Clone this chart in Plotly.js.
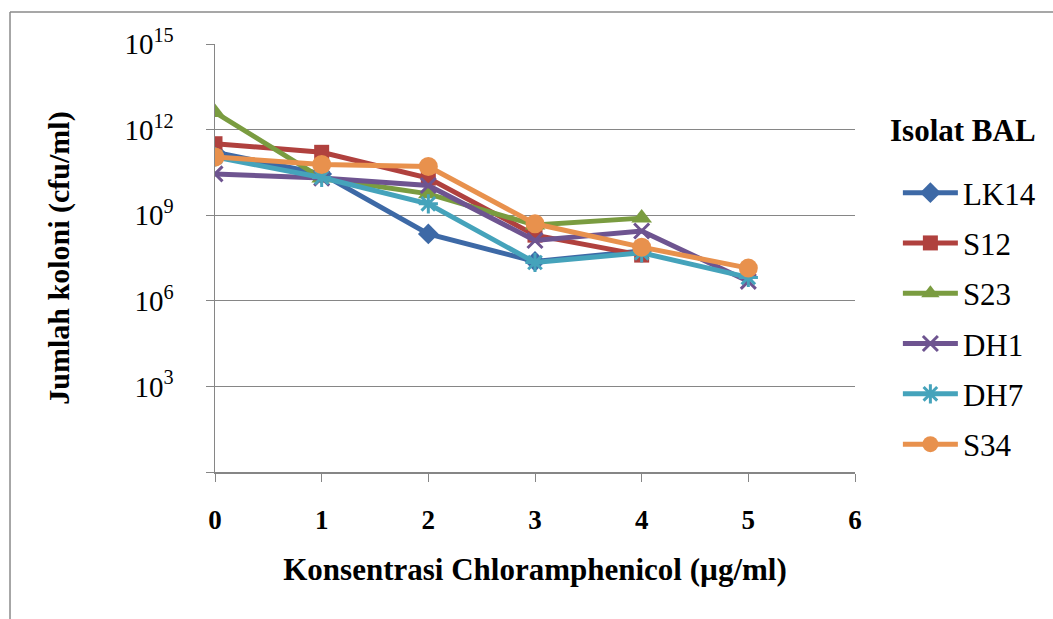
<!DOCTYPE html>
<html>
<head>
<meta charset="utf-8">
<script src="https://cdn.plot.ly/plotly-3.0.1.min.js"></script>
<style>html,body{margin:0;padding:0;background:#fff;}#chart{width:1053px;height:619px;}</style>
</head>
<body>
<div id="chart"></div>
<script>
// Concentration of chloramphenicol (µg/ml)
const concentrations = [0, 1, 2, 3, 4, 5];
// Colony counts (cfu/ml)
const LK14 = [1.6e11, 2.8e10, 2.2e8, 2.4e7, 5.6e7];
const S12  = [3.2e11, 1.6e11, 2.0e10, 2.0e8, 4.0e7];
const S23  = [4.0e12, 2.0e10, 5.6e9, 4.5e8, 7.9e8];
const DH1  = [2.8e10, 2.0e10, 1.1e10, 1.3e8, 2.8e8, 4.8e6];
const DH7  = [1.1e11, 2.1e10, 2.5e9, 2.2e7, 4.8e7, 6.6e6];
const S34  = [1.1e11, 6.0e10, 5.1e10, 5.0e8, 7.6e7, 1.4e7];
const seriesNames = ["LK14", "S12", "S23", "DH1", "DH7", "S34"];
const yTickValues = [1, 1e3, 1e6, 1e9, 1e12, 1e15];
const yTickLabels = ["", "10<sup>3</sup>", "10<sup>6</sup>", "10<sup>9</sup>", "10<sup>12</sup>", "10<sup>15</sup>"];
const xTickValues = [0, 1, 2, 3, 4, 5, 6];

const seriesData = [LK14, S12, S23, DH1, DH7, S34];
const styles = [
  {color: "#3D69A6", symbol: "diamond", size: 16, lw: 0},
  {color: "#B0413E", symbol: "square", size: 15, lw: 0},
  {color: "#7A9C40", symbol: "triangle-up", size: 18, lw: 0},
  {color: "#6E5490", symbol: "x-thin-open", size: 15, lw: 3},
  {color: "#45A3BB", symbol: "asterisk-open", size: 16, lw: 3},
  {color: "#E8914D", symbol: "circle", size: 19, lw: 0}
];

const traces = seriesNames.map((name, i) => ({
  type: "scatter",
  mode: "lines+markers",
  name: name,
  legendgroup: name,
  x: concentrations.slice(0, seriesData[i].length),
  y: seriesData[i],
  line: {color: styles[i].color, width: 5},
  marker: {
    symbol: styles[i].symbol,
    size: styles[i].size,
    color: styles[i].color,
    line: {color: styles[i].color, width: styles[i].lw}
  }
}));

const axisColor = "#868686";
const layout = {
  width: 1053,
  height: 619,
  margin: {l: 215, r: 198, t: 44, b: 147},
  paper_bgcolor: "#ffffff",
  plot_bgcolor: "#ffffff",
  font: {family: "Liberation Serif, Times New Roman, serif", color: "#000"},
  showlegend: true,
  legend: {
    x: 1.067, xanchor: "left",
    y: 0.715, yanchor: "top",
    font: {size: 31},
    tracegroupgap: 7,
    itemwidth: 55,
    bgcolor: "rgba(0,0,0,0)"
  },
  annotations: [
    {text: "<b>Isolat BAL</b>", xref: "paper", yref: "paper", x: 1.0516, y: 0.799,
     xanchor: "left", yanchor: "middle", showarrow: false, font: {size: 31}}
  ],
  xaxis: {
    range: [0, 6],
    tickvals: xTickValues,
    ticktext: xTickValues.map(String),
    tickfont: {size: 27, family: "Liberation Serif", weight: "bold"},
    ticks: "outside", ticklen: 8, tickcolor: axisColor, tickwidth: 1,
    ticklabelstandoff: 15,
    showline: true, linecolor: axisColor, linewidth: 1.5,
    showgrid: false, zeroline: false,
    title: {text: "<b>Konsentrasi Chloramphenicol (µg/ml)</b>", font: {size: 31}, standoff: 24}
  },
  yaxis: {
    type: "log",
    range: [0, 15],
    tickvals: yTickValues,
    ticktext: yTickLabels,
    tickfont: {size: 29},
    ticks: "outside", ticklen: 8, tickcolor: axisColor, tickwidth: 1,
    ticklabelstandoff: 26,
    showline: true, linecolor: axisColor, linewidth: 1.5,
    showgrid: true, gridcolor: axisColor, gridwidth: 1.2,
    zeroline: false,
    title: {text: "<b>Jumlah koloni (cfu/ml)</b>", font: {size: 30}, standoff: 46}
  },
  shapes: [
    {type: "line", xref: "paper", yref: "paper", x0: -0.3203, x1: 1.32, y0: 1.0747, y1: 1.0747, line: {color: "#8a8a8a", width: 1.5}},
    {type: "line", xref: "paper", yref: "paper", x0: -0.3203, x1: -0.3203, y0: 1.0747, y1: -0.4, line: {color: "#8a8a8a", width: 1.5}}
  ]
};

Plotly.newPlot("chart", traces, layout, {displayModeBar: false, staticPlot: true});
</script>
</body>
</html>
